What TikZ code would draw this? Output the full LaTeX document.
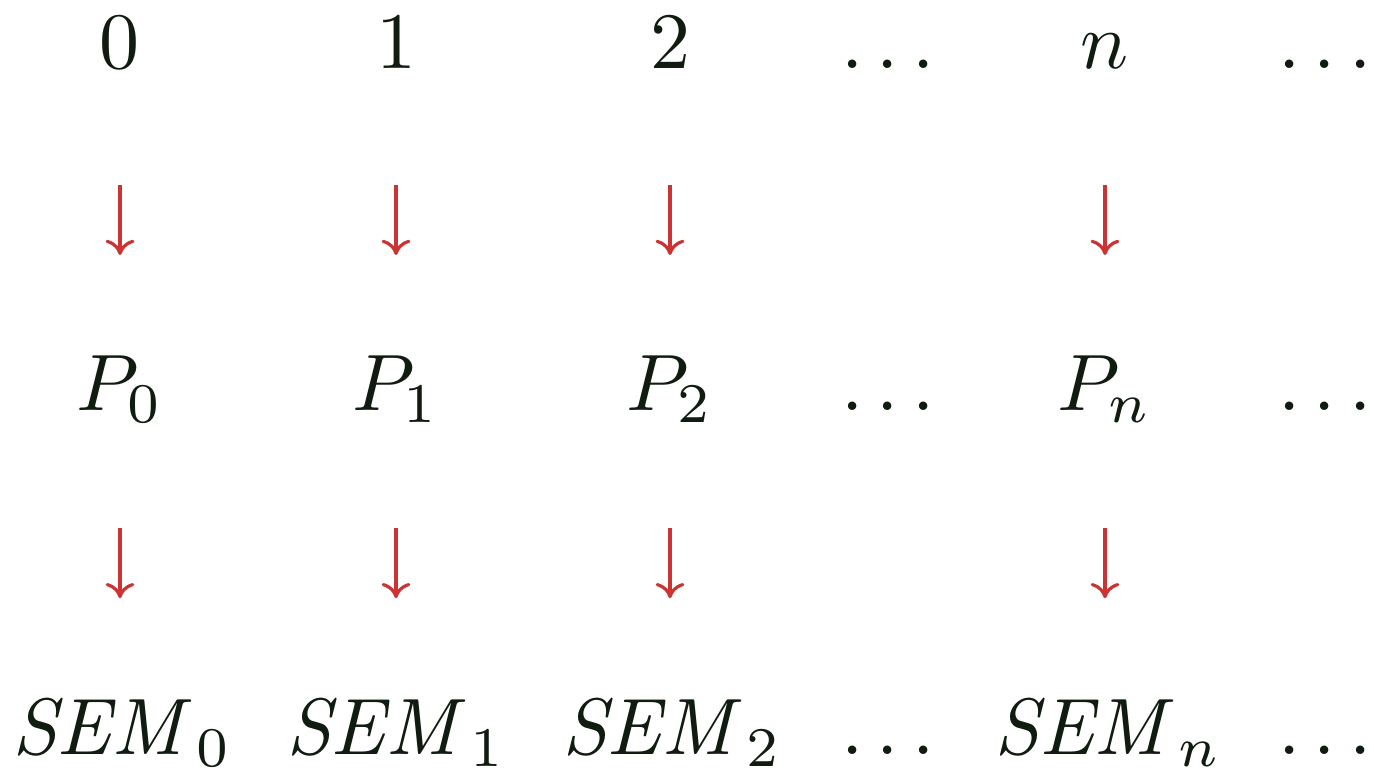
\documentclass[tikz,border=0pt]{standalone}
\usetikzlibrary{arrows.meta}
\definecolor{ink}{RGB}{16,28,16}
\definecolor{arr}{RGB}{204,51,51}
\begin{document}
\begin{tikzpicture}[x=0.125pt,y=-0.125pt,
  lbl/.style={anchor=base,inner sep=0pt,text=ink,font=\fontsize{10}{12}\selectfont},
  conn/.style={draw=arr,line width=0.4pt,-{Computer Modern Rightarrow[length=1.9pt,width=3.6pt]}},
  upper/.style={shorten <=14.5pt,shorten >=19.5pt},
  lower/.style={shorten <=14.6pt,shorten >=19.6pt}]
\useasboundingbox (0,0) rectangle (1374,768);
% top row
\node[lbl] (t0) at (120,69) {$0$};
\node[lbl] (t1) at (396,69) {$1$};
\node[lbl] (t2) at (670,69) {$2$};
\node[lbl] (t3) at (888,69) {$\ldots$};
\node[lbl] (t4) at (1105,69) {$n$};
\node[lbl] (t5) at (1325,69) {$\ldots$};
% P row
\node[lbl] (p0) at (120,411) {$P_0$};
\node[lbl] (p1) at (396,411) {$P_1$};
\node[lbl] (p2) at (670,411) {$P_2$};
\node[lbl] (p3) at (888,411) {$\ldots$};
\node[lbl] (p4) at (1105,411) {$P_n$};
\node[lbl] (p5) at (1325,411) {$\ldots$};
% SEM row
\node[lbl] (s0) at (122,755) {$\mathit{SEM}_0$};
\node[lbl] (s1) at (396,755) {$\mathit{SEM}_1$};
\node[lbl] (s2) at (672,755) {$\mathit{SEM}_2$};
\node[lbl] (s3) at (888,755) {$\ldots$};
\node[lbl] (s4) at (1108,755) {$\mathit{SEM}_n$};
\node[lbl] (s5) at (1325,755) {$\ldots$};
% arrows
\foreach \i in {0,1,2,4} {
  \draw[conn,upper] (t\i.base) -- (p\i.base);
  \draw[conn,lower] (p\i.base) -- (s\i.base -| p\i.base);
}
\end{tikzpicture}
\end{document}
